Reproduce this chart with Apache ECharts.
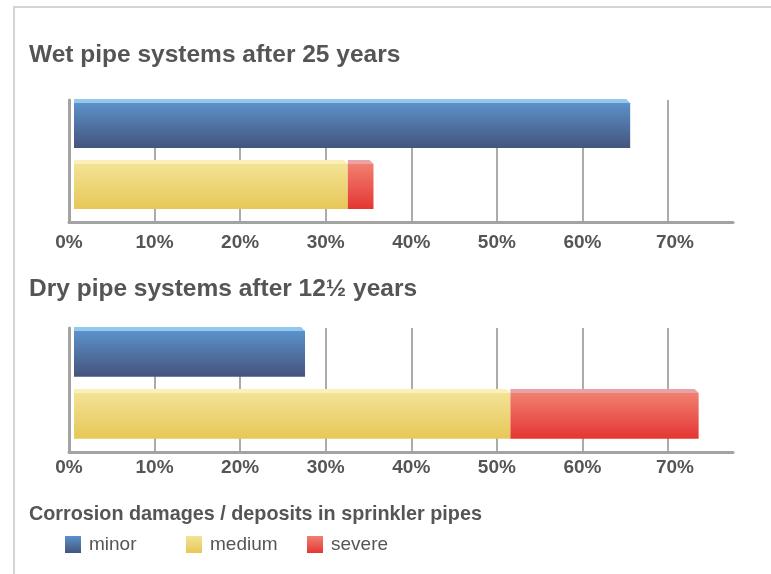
<!DOCTYPE html>
<html>
<head>
<meta charset="utf-8">
<script src="https://cdn.jsdelivr.net/npm/echarts@6/dist/echarts.min.js"></script>
<style>
html, body { margin: 0; padding: 0; background: #fff; }
#frame { position: absolute; left: 13px; top: 6px; right: 0; bottom: 0; border-left: 2px solid #d4d4d4; border-top: 2px solid #d4d4d4; }
#chart { position: absolute; left: 0; top: 0; width: 771px; height: 574px; }
</style>
</head>
<body>
<div id="frame"></div>
<div id="chart"></div>
<script>
const titles = ['Wet pipe systems after 25 years', 'Dry pipe systems after 12½ years'];
const legendTitle = 'Corrosion damages / deposits in sprinkler pipes';
const seriesNames = ['minor', 'medium', 'severe'];
const rowNames = ['minor', 'medium / severe'];
const seriesRows = [0, 1, 1];          // bar row each series sits on
const wetValues = [65, 32, 3];         // % of wet pipe systems
const dryValues = [27, 51, 22];        // % of dry pipe systems
const tickLabels = ['0%', '10%', '20%', '30%', '40%', '50%', '60%', '70%'];

const palette = {
	minor: { top: '#5c91ca', bottom: '#44547c', face: '#92c9ea' },
	medium: { top: '#f2e396', bottom: '#e7c757', face: '#fcf0b8' },
	severe: { top: '#f08070', bottom: '#e43633', face: '#e9a3a6' }
};

const font = 'Liberation Sans, Arial, sans-serif';

function fill(c)
{
	return new echarts.graphic.LinearGradient(0, 0, 0, 1, [
		{ offset: 0, color: c.top },
		{ offset: 1, color: c.bottom }
	]);
}

// turn the values into [start, end, row] so medium and severe share a bar
function stacked(values)
{
	const ends = rowNames.map(() => 0);
	return values.map((v, i) =>
	{
		const row = seriesRows[i];
		const start = ends[row];
		ends[row] += v;
		return [start, ends[row], row];
	});
}

function renderBar(params, api)
{
	const a = api.coord([api.value(0), api.value(2)]);
	const b = api.coord([api.value(1), api.value(2)]);
	const band = api.size([0, 1])[1];
	const shift = 5;   // bars sit a little off the axis
	const depth = 4;   // the light top face
	const left = a[0] + shift;
	const right = b[0] + shift;
	const top = a[1] - band * 0.45;
	const h = band * 0.735;
	const c = palette[params.seriesName];
	return {
		type: 'group',
		children: [
			{ type: 'polygon', shape: { points: [[left, top - depth], [right - depth, top - depth], [right, top], [left, top]] }, style: { fill: c.face } },
			{ type: 'rect', shape: { x: left, y: top, width: right - left, height: h }, style: { fill: fill(c) } }
		]
	};
}

function xAxis(gridIndex, margin)
{
	return {
		type: 'value',
		gridIndex: gridIndex,
		min: 0,
		max: 77.6,
		interval: 10,
		axisLine: { show: true, lineStyle: { color: '#a3a3a3', width: 3 } },
		axisTick: { show: false },
		splitLine: { show: true, showMinLine: false, showMaxLine: false, lineStyle: { color: '#ababab', width: 2 } },
		axisLabel: {
			margin: margin,
			showMaxLabel: false,
			color: '#555',
			fontFamily: font,
			fontWeight: 'bold',
			fontSize: 19,
			formatter: (v) =>
			{
				if (v % 10 !== 0) return '';
				const t = tickLabels[v / 10] || '';
				return v === 70 ? '{last|' + t + '}' : t;
			},
			rich: {
				last: { color: '#555', fontFamily: font, fontWeight: 'bold', fontSize: 19, padding: [0, 0, 0, 14] }
			}
		}
	};
}

function yAxis(gridIndex)
{
	return {
		type: 'category',
		gridIndex: gridIndex,
		data: rowNames,
		inverse: true,
		axisLine: { show: true, lineStyle: { color: '#a3a3a3', width: 3 } },
		axisTick: { show: false },
		axisLabel: { show: false },
		splitLine: { show: false }
	};
}

const titleFont = { fontFamily: font, fontWeight: 'bold', color: '#555' };

const series = [];
[wetValues, dryValues].forEach((values, k) =>
{
	stacked(values).forEach((item, i) =>
	{
		series.push({
			type: 'custom',
			name: seriesNames[i],
			xAxisIndex: k,
			yAxisIndex: k,
			renderItem: renderBar,
			encode: { x: [0, 1], y: 2 },
			itemStyle: { color: fill(palette[seriesNames[i]]) },
			data: [item]
		});
	});
});

// one legend per entry so they sit in even columns
const legends = seriesNames.map((n, i) => ({
	left: 65 + i * 121,
	top: 535,
	padding: 0,
	itemWidth: 16,
	itemHeight: 17,
	icon: 'rect',
	selectedMode: false,
	data: [{ name: n, itemStyle: { color: fill(palette[n]) } }],
	textStyle: { color: '#555', fontSize: 19, fontFamily: font, padding: [0, 0, 0, 3] }
}));

const chart = echarts.init(document.getElementById('chart'));
chart.setOption({
	animation: false,
	title: [
		{ text: titles[0], left: 29, top: 43, padding: 0, textStyle: Object.assign({ fontSize: 24.5 }, titleFont) },
		{ text: titles[1], left: 29, top: 277, padding: 0, textStyle: Object.assign({ fontSize: 24.5 }, titleFont) },
		{ text: legendTitle, left: 29, top: 505, padding: 0, textStyle: Object.assign({ fontSize: 19.8 }, titleFont) }
	],
	grid: [
		{ left: 69, right: 38, top: 100, height: 122 },
		{ left: 69, right: 38, top: 328, height: 124 }
	],
	xAxis: [xAxis(0, 11), xAxis(1, 6)],
	yAxis: [yAxis(0), yAxis(1)],
	legend: legends,
	series: series
});
</script>
</body>
</html>
